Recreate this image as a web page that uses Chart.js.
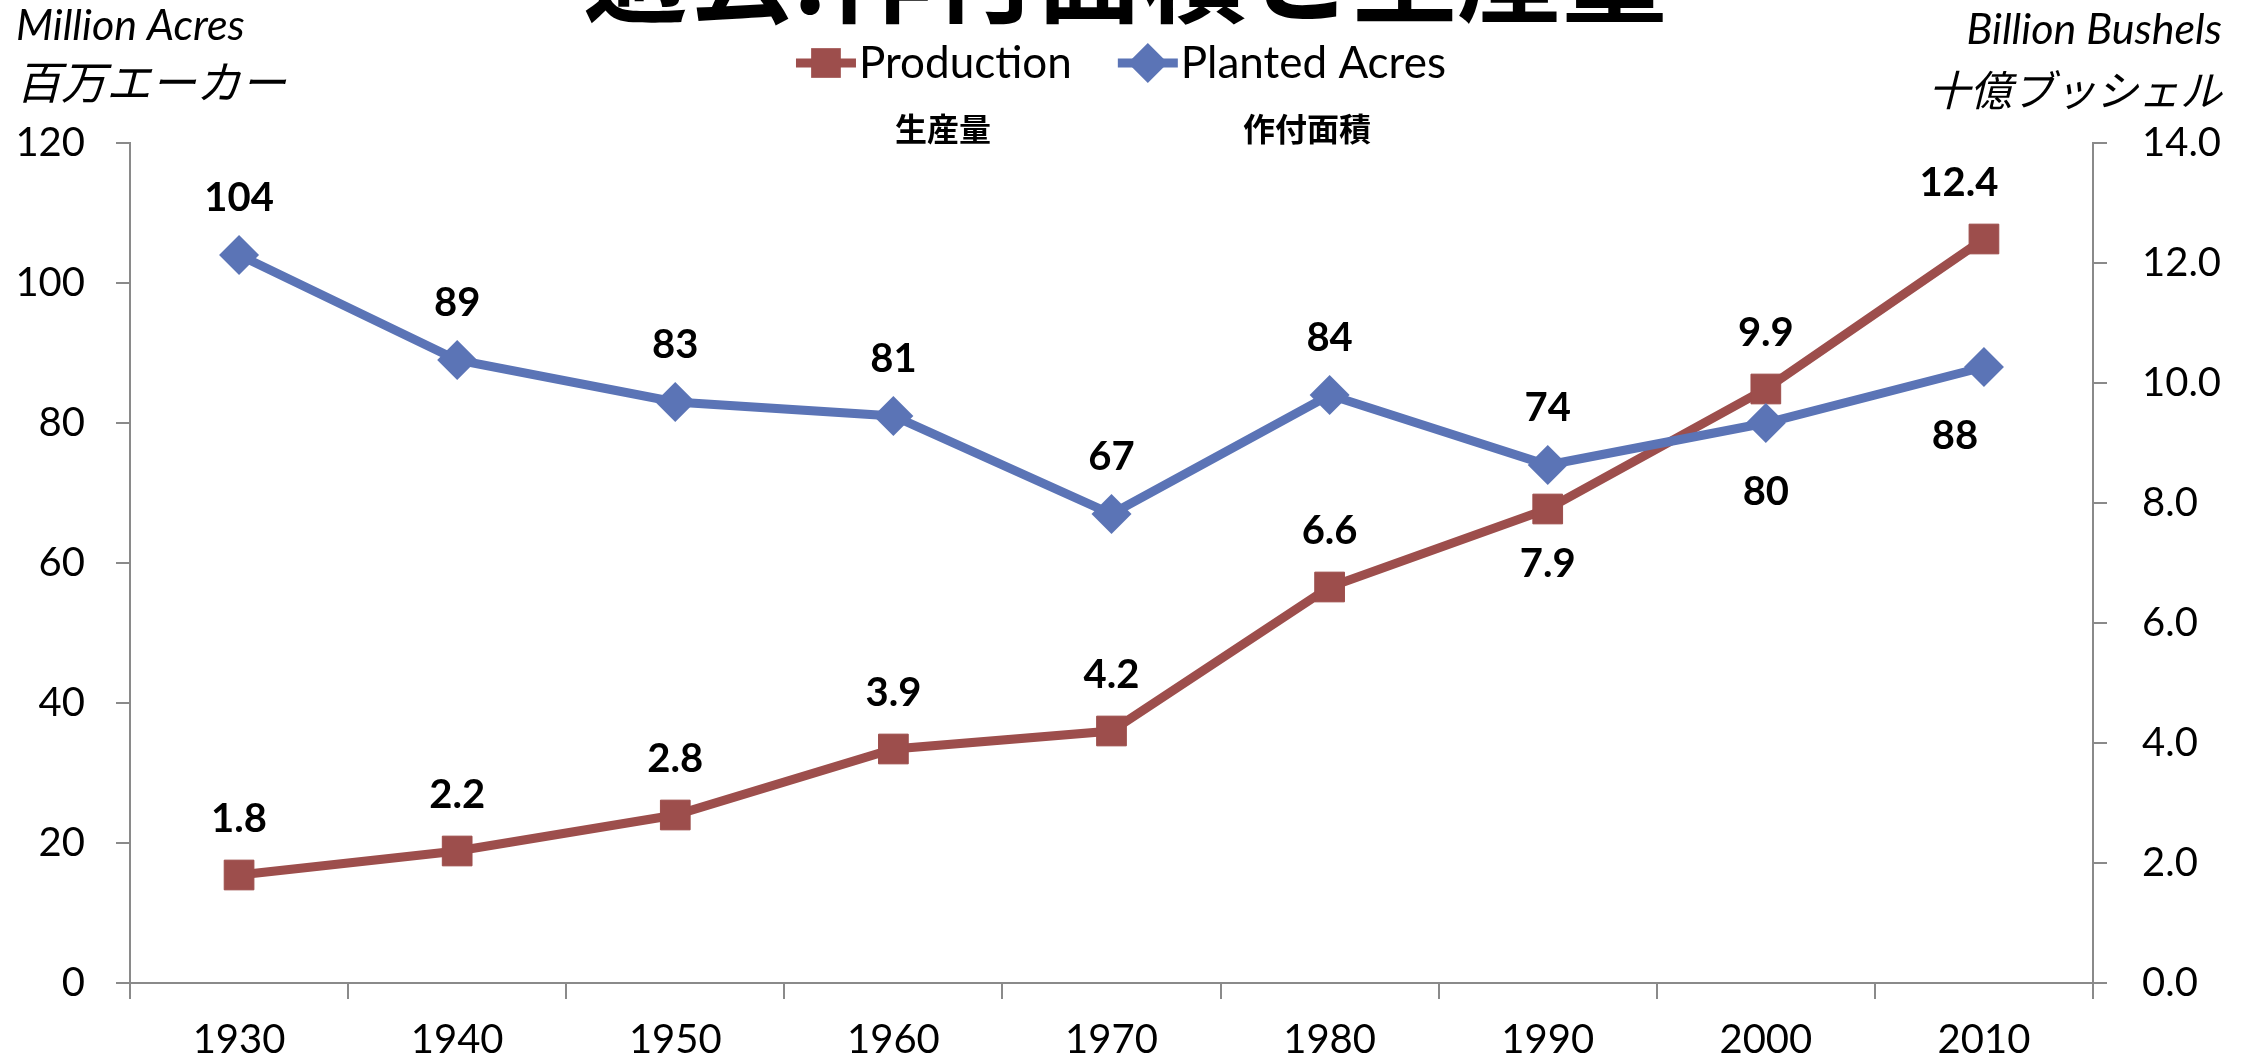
<!DOCTYPE html>
<html>
<head>
<meta charset="utf-8">
<script src="https://cdn.jsdelivr.net/npm/chart.js@4.4.1/dist/chart.umd.min.js"></script>
<style>
html,body{margin:0;padding:0;background:#fff;overflow:hidden;}
#wrap{width:2255px;height:1063px;position:relative;}
canvas{display:block;}
</style>
</head>
<body>
<div id="wrap"><canvas id="c" width="2255" height="1063"></canvas></div>
<script>
// ---------------- data ----------------
const years = ['1930','1940','1950','1960','1970','1980','1990','2000','2010'];
const plantedAcres = [104, 89, 83, 81, 67, 84, 74, 80, 88];          // million acres (left axis)
const production = [1.8, 2.2, 2.8, 3.9, 4.2, 6.6, 7.9, 9.9, 12.4];   // billion bushels (right axis)
const leftAxisRange = [0, 120, 20];    // min, max, step
const rightAxisRange = [0, 14, 2];     // min, max, step
const seriesNames = ['Production', 'Planted Acres'];
const seriesSubtitles = ['生産量', '作付面積'];
const chartTitle = '過去:作付面積と生産量';
const leftAxisTitle = ['Million Acres', '百万エーカー'];
const rightAxisTitle = ['Billion Bushels', '十億ブッシェル'];
// label placement: 'a' = above, 'b' = below
const productionLabelPlace = ['a','a','a','a','a','a','b','a','a'];
const plantedLabelPlace    = ['a','a','a','a','a','a','a','b','b'];

// ---------------- styles ----------------
const RED = '#9D4E4C';
const BLUE = '#5B74B6';
const AXIS = '#8A8A8A';
const LATIN = 'Lato, "Noto Sans CJK JP", sans-serif';
const CJK = '"Noto Sans CJK JP", Lato, sans-serif';

const CANVAS_W = 2255, CANVAS_H = 1063;
const PLOT_LEFT = 130, PLOT_RIGHT = 2093, PLOT_TOP = 143, PLOT_BOTTOM = 983;

const dataLabelsPlugin = {
  id: 'dataLabels',
  afterDatasetsDraw(chart) {
    const ctx = chart.ctx;
    ctx.save();
    ctx.font = 'bold 40px ' + LATIN;
    ctx.fillStyle = '#000';
    ctx.textAlign = 'center';
    ctx.textBaseline = 'middle';
    chart.data.datasets.forEach((ds, i) => {
      const meta = chart.getDatasetMeta(i);
      meta.data.forEach((pt, j) => {
        const v = ds.data[j];
        const txt = ds.labelFmt(v);
        const place = ds.labelPlace[j];
        const off = place === 'a' ? ds.offAbove : ds.offBelow;
        let dx = 0;
        if (j === ds.data.length - 1) dx = ds.lastShift;
        ctx.fillText(txt, pt.x + dx, pt.y + (place === 'a' ? -off : off));
      });
    });
    ctx.restore();
  }
};

const decorPlugin = {
  id: 'decor',
  afterDraw(chart) {
    const ctx = chart.ctx;
    ctx.save();
    // title (cut off at top as in reference)
    ctx.fillStyle = '#000';
    ctx.textAlign = 'center';
    ctx.textBaseline = 'alphabetic';
    ctx.font = 'bold 105px ' + CJK;
    ctx.fillText(chartTitle, 1125, 14);

    // axis titles
    ctx.textAlign = 'left';
    ctx.textBaseline = 'alphabetic';
    ctx.font = 'italic 43px ' + LATIN;
    ctx.fillText(leftAxisTitle[0], 16, 40);
    ctx.textBaseline = 'middle';
    ctx.font = 'italic 45px ' + CJK;
    ctx.fillText(leftAxisTitle[1], 16, 82);
    ctx.textAlign = 'right';
    ctx.textBaseline = 'alphabetic';
    ctx.font = 'italic 43px ' + LATIN;
    ctx.fillText(rightAxisTitle[0], 2222, 44);
    ctx.textBaseline = 'middle';
    ctx.font = 'italic 42px ' + CJK;
    ctx.fillText(rightAxisTitle[1], 2222, 90);

    // legend
    const ds = chart.data.datasets;
    ctx.font = '44px ' + LATIN;
    const lineLen = 60, gapText = 3, gapItem = 46;
    const widths = ds.map(d => lineLen + gapText + ctx.measureText(d.label).width);
    const total = widths.reduce((a, b) => a + b, 0) + gapItem * (ds.length - 1);
    let x = 1121 - total / 2;
    const ly = 63;
    ds.forEach((d, i) => {
      ctx.strokeStyle = d.borderColor;
      ctx.lineWidth = d.borderWidth;
      ctx.beginPath();
      ctx.moveTo(x, ly);
      ctx.lineTo(x + lineLen, ly);
      ctx.stroke();
      ctx.fillStyle = d.borderColor;
      Chart.helpers.drawPoint(ctx, {pointStyle: d.pointStyle, radius: d.pointRadius, borderWidth: 0, rotation: 0}, x + lineLen / 2, ly);
      ctx.fillStyle = '#000';
      ctx.textAlign = 'left';
      ctx.textBaseline = 'middle';
      ctx.fillText(d.label, x + lineLen + gapText, ly + 1);
      x += widths[i] + gapItem;
    });

    // series subtitles (Japanese)
    ctx.font = 'bold 32px ' + CJK;
    ctx.textAlign = 'center';
    ctx.fillText(seriesSubtitles[0], 943, 129);
    ctx.fillText(seriesSubtitles[1], 1307, 129);
    ctx.restore();
  }
};

function build() {
  Chart.defaults.font.family = LATIN;
  new Chart(document.getElementById('c'), {
    type: 'line',
    data: {
      labels: years,
      datasets: [
        {
          label: seriesNames[0],
          data: production,
          yAxisID: 'y1',
          borderColor: RED,
          backgroundColor: RED,
          pointBackgroundColor: RED,
          pointBorderColor: RED,
          borderWidth: 9,
          pointStyle: 'rect',
          pointRadius: 21,
          pointBorderWidth: 1,
          tension: 0,
          order: 1,
          labelPlace: productionLabelPlace,
          labelFmt: v => v.toFixed(1),
          offAbove: 56,
          offBelow: 55,
          lastShift: -25
        },
        {
          label: seriesNames[1],
          data: plantedAcres,
          yAxisID: 'y',
          borderColor: BLUE,
          backgroundColor: BLUE,
          pointBackgroundColor: BLUE,
          pointBorderColor: BLUE,
          borderWidth: 9,
          pointStyle: 'rectRot',
          pointRadius: 20,
          pointBorderWidth: 0,
          tension: 0,
          order: 0,
          labelPlace: plantedLabelPlace,
          labelFmt: v => String(v),
          offAbove: 57,
          offBelow: 69,
          lastShift: -29
        }
      ]
    },
    options: {
      responsive: false,
      animation: false,
      devicePixelRatio: 1,
      layout: { padding: { top: PLOT_TOP, left: 0, right: 0, bottom: 0 } },
      plugins: {
        legend: { display: false },
        title: { display: false },
        tooltip: { enabled: false }
      },
      scales: {
        x: {
          type: 'category',
          offset: true,
          grid: { display: true, drawOnChartArea: false, drawTicks: true, tickLength: 16, offset: true, color: AXIS, lineWidth: 2 },
          border: { display: true, color: AXIS, width: 2 },
          ticks: { color: '#000', font: { size: 40, family: LATIN }, padding: 17, maxRotation: 0, autoSkip: false },
          afterFit(s) { s.height = CANVAS_H - PLOT_BOTTOM; }
        },
        y: {
          position: 'left',
          min: leftAxisRange[0], max: leftAxisRange[1],
          grid: { display: true, drawOnChartArea: false, drawTicks: true, tickLength: 14, color: AXIS, lineWidth: 2 },
          border: { display: true, color: AXIS, width: 2 },
          ticks: { stepSize: leftAxisRange[2], color: '#000', font: { size: 40, family: LATIN }, padding: 31 },
          afterFit(s) { s.width = PLOT_LEFT; }
        },
        y1: {
          position: 'right',
          min: rightAxisRange[0], max: rightAxisRange[1],
          grid: { display: true, drawOnChartArea: false, drawTicks: true, tickLength: 14, color: AXIS, lineWidth: 2 },
          border: { display: true, color: AXIS, width: 2 },
          ticks: { stepSize: rightAxisRange[2], color: '#000', font: { size: 40, family: LATIN }, padding: 35, callback: v => Number(v).toFixed(1) },
          afterFit(s) { s.width = CANVAS_W - PLOT_RIGHT; }
        }
      }
    },
    plugins: [dataLabelsPlugin, decorPlugin]
  });
}

const fontLoads = [
  '40px Lato', 'bold 40px Lato', 'italic 43px Lato',
  'bold 105px "Noto Sans CJK JP"', '44px "Noto Sans CJK JP"', 'bold 32px "Noto Sans CJK JP"'
].map(f => document.fonts && document.fonts.load ? document.fonts.load(f, '過去作付面積生産量百万エーカー十億ブッシェル0123') : Promise.resolve());
Promise.all(fontLoads).then(build, build);
</script>
</body>
</html>
